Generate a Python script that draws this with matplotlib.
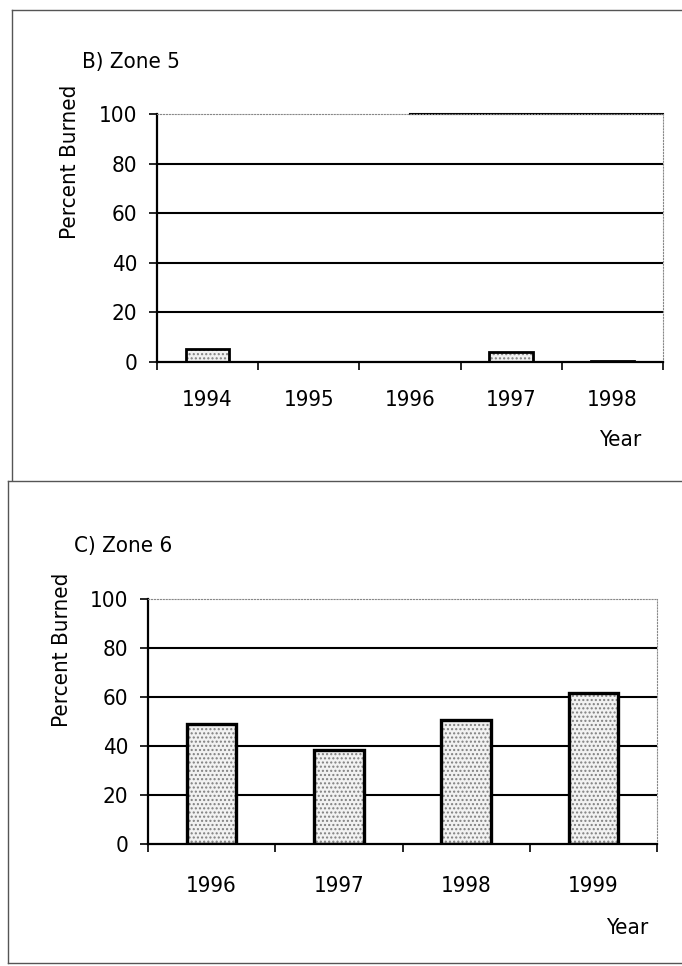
import matplotlib
matplotlib.use('agg')
import matplotlib.pyplot as plt
from matplotlib.lines import Line2D
import numpy as np

plt.rcParams['font.family'] = ['DejaVu Sans']
plt.rcParams['font.stretch'] = 'condensed'

# data
years_z5 = ['1994', '1995', '1996', '1997', '1998']
burned_z5 = [5.3, 0, 0, 4.2, 0.6]
years_z6 = ['1996', '1997', '1998', '1999']
burned_z6 = [49, 38.5, 50.5, 61.5]
yticks = [0, 20, 40, 60, 80, 100]

W, H = 682, 966
FS = 16
fig = plt.figure(figsize=(W / 100, H / 100), dpi=100)

def px(x, y):
    return x / W, 1 - y / H

def draw_panel(rect, years, vals, barw, lw, xpad, title, title_xy, ylab_xy, year_xy):
    l, t, r, b = rect
    ax = fig.add_axes([l / W, 1 - b / H, (r - l) / W, (b - t) / H])
    x = np.arange(len(years))
    ax.bar(x, vals, width=barw, facecolor='#f2f2f2', edgecolor='black',
           linewidth=lw, hatch='....', zorder=3)
    for c in ax.patches:
        c._hatch_color = (0.5, 0.5, 0.5, 1)
    ax.set_xlim(-0.5, len(years) - 0.5)
    ax.set_ylim(0, 100)
    ax.set_yticks(yticks)
    ax.set_yticklabels([str(v) for v in yticks], fontsize=FS)
    ax.tick_params(axis='y', direction='out', length=6, width=1.2, pad=8)
    ax.set_xticks(np.arange(len(years) + 1) - 0.5)
    ax.set_xticklabels([''] * (len(years) + 1))
    ax.tick_params(axis='x', which='major', direction='out', length=6, width=1.2)
    ax.set_xticks(x, minor=True)
    ax.set_xticklabels(years, minor=True, fontsize=FS)
    ax.tick_params(axis='x', which='minor', length=0, pad=xpad)
    for v in yticks[1:-1]:
        ax.axhline(v, color='black', linewidth=1.5, zorder=1)
    for s in ['top', 'right']:
        ax.spines[s].set_color('#888888')
        ax.spines[s].set_linestyle(':')
        ax.spines[s].set_linewidth(0.8)
    for s in ['left', 'bottom']:
        ax.spines[s].set_linewidth(1.6)
    ax.spines['bottom'].set_zorder(4)
    fig.text(*px(*title_xy), title, fontsize=FS, ha='left', va='center')
    fig.text(*px(*ylab_xy), 'Percent Burned', fontsize=FS, rotation=90,
             ha='center', va='center')
    fig.text(*px(*year_xy), 'Year', fontsize=FS, ha='center', va='center')
    return ax

ax1 = draw_panel((157, 114, 663, 362), years_z5, burned_z5, 0.43, 2.0, 20,
                 'B) Zone 5', (82, 62), (70, 162), (620, 440))
# top border is solid on its right half in the scan
ax1.axhline(100, xmin=0.5, xmax=1, color='black', linewidth=1.5, zorder=2,
            clip_on=False)
draw_panel((148, 599, 657, 844), years_z6, burned_z6, 0.39, 2.4, 23,
           'C) Zone 6', (74, 546), (62, 650), (627, 928))

# panel frames
frame = dict(color='#555555', linewidth=1.0)
fig.add_artist(Line2D([12 / W, 1], [1 - 10 / H] * 2, **frame))
fig.add_artist(Line2D([12 / W] * 2, [1 - 10 / H, 1 - 480 / H], **frame))
fig.add_artist(Line2D([8 / W, 1], [1 - 481 / H] * 2, **frame))
fig.add_artist(Line2D([8 / W] * 2, [1 - 481 / H, 1 - 963 / H], **frame))
fig.add_artist(Line2D([8 / W, 1], [1 - 963 / H] * 2, **frame))

fig.savefig('out.png', dpi=100)
